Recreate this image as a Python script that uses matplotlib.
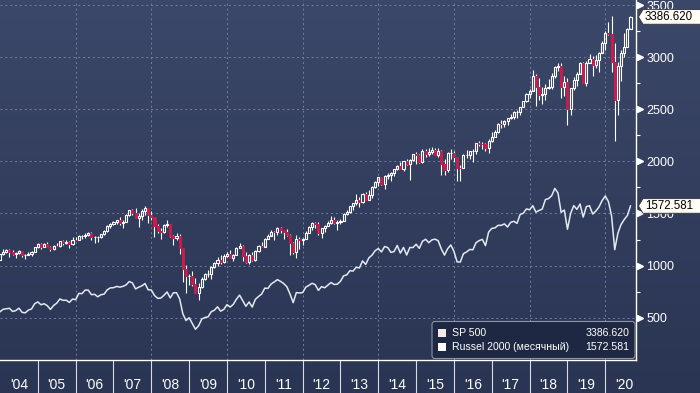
import numpy as np
import matplotlib
matplotlib.use("Agg")
import matplotlib.pyplot as plt
from matplotlib.patches import Polygon, FancyBboxPatch, Rectangle

plt.rcParams["font.family"] = ["Liberation Sans", "DejaVu Sans"]

# monthly bars, Dec 2003 .. Aug 2020
first_year, first_month = 2003, 12

spx_close = [
    1111.9,
    1131.1, 1144.9, 1126.2, 1107.3, 1120.7, 1140.8, 1101.7, 1104.2, 1114.6, 1130.2, 1173.8, 1211.9,
    1181.3, 1203.6, 1180.6, 1156.9, 1191.5, 1191.3, 1234.2, 1220.3, 1228.8, 1207.0, 1249.5, 1248.3,
    1280.1, 1280.7, 1294.8, 1310.6, 1270.1, 1270.2, 1276.7, 1303.8, 1335.9, 1377.9, 1400.6, 1418.3,
    1438.2, 1406.8, 1420.9, 1482.4, 1530.6, 1503.4, 1455.3, 1474.0, 1526.8, 1549.4, 1481.1, 1468.4,
    1378.6, 1330.6, 1322.7, 1385.6, 1400.4, 1280.0, 1267.4, 1282.8, 1166.4, 968.8, 896.2, 903.3,
    825.9, 735.1, 797.9, 872.8, 919.1, 919.3, 987.5, 1020.6, 1057.1, 1036.2, 1095.6, 1115.1,
    1073.9, 1104.5, 1169.4, 1186.7, 1089.4, 1030.7, 1101.6, 1049.3, 1141.2, 1183.3, 1180.6, 1257.6,
    1286.1, 1327.2, 1325.8, 1363.6, 1345.2, 1320.6, 1292.3, 1218.9, 1131.4, 1253.3, 1247.0, 1257.6,
    1312.4, 1365.7, 1408.5, 1397.9, 1310.3, 1362.2, 1379.3, 1406.6, 1440.7, 1412.2, 1416.2, 1426.2,
    1498.1, 1514.7, 1569.2, 1597.6, 1630.7, 1606.3, 1685.7, 1633.0, 1681.6, 1756.5, 1805.8, 1848.4,
    1782.6, 1859.5, 1872.3, 1884.0, 1923.6, 1960.2, 1930.7, 2003.4, 1972.3, 2018.1, 2067.6, 2058.9,
    1995.0, 2104.5, 2067.9, 2085.5, 2107.4, 2063.1, 2103.8, 1972.2, 1920.0, 2079.4, 2080.4, 2043.9,
    1940.2, 1932.2, 2059.7, 2065.3, 2097.0, 2098.9, 2173.6, 2171.0, 2168.3, 2126.2, 2198.8, 2238.8,
    2278.9, 2363.6, 2362.7, 2384.2, 2411.8, 2423.4, 2470.3, 2471.7, 2519.4, 2575.3, 2647.6, 2673.6,
    2823.8, 2713.8, 2640.9, 2648.1, 2705.3, 2718.4, 2816.3, 2901.5, 2914.0, 2711.7, 2760.2, 2506.9,
    2704.1, 2784.5, 2834.4, 2945.8, 2752.1, 2941.8, 2980.4, 2926.5, 2976.7, 3037.6, 3141.0, 3230.8,
    3225.5, 2954.2, 2584.6, 2912.4, 3044.3, 3100.3, 3271.1, 3386.62,
]
spx_high = [
    1112.6,
    1155, 1158, 1163, 1150, 1128, 1147, 1141, 1109, 1131, 1142, 1183, 1218,
    1217, 1213, 1229, 1192, 1200, 1219, 1237, 1245, 1243, 1234, 1270, 1276,
    1295, 1297, 1310, 1318, 1326, 1284, 1281, 1306, 1340, 1390, 1408, 1431,
    1441, 1462, 1438, 1498, 1535, 1541, 1556, 1504, 1539, 1576, 1553, 1523,
    1471, 1396, 1359, 1397, 1440, 1404, 1293, 1313, 1304, 1167, 1007, 919,
    944, 877, 832, 888, 930, 956, 996, 1039, 1080, 1101, 1113, 1130,
    1150, 1113, 1180, 1220, 1200, 1131, 1110, 1130, 1149, 1196, 1227, 1263,
    1303, 1345, 1333, 1370, 1371, 1346, 1356, 1308, 1230, 1293, 1278, 1269,
    1334, 1378, 1420, 1422, 1415, 1364, 1392, 1426, 1475, 1471, 1434, 1448,
    1504, 1531, 1570, 1598, 1687, 1654, 1698, 1710, 1730, 1765, 1813, 1850,
    1851, 1867, 1884, 1897, 1925, 1968, 1992, 2006, 2019, 2019, 2075, 2094,
    2072, 2120, 2117, 2126, 2135, 2130, 2133, 2113, 2021, 2094, 2117, 2104,
    2039, 1963, 2073, 2111, 2100, 2121, 2178, 2194, 2188, 2175, 2214, 2278,
    2301, 2371, 2401, 2398, 2418, 2454, 2484, 2491, 2520, 2582, 2657, 2695,
    2873, 2836, 2801, 2718, 2742, 2791, 2848, 2916, 2941, 2940, 2816, 2800,
    2709, 2813, 2860, 2950, 2954, 2965, 3028, 3014, 3022, 3050, 3155, 3248,
    3338, 3394, 3136, 2954, 3068, 3233, 3280, 3392,
]
spx_low = [
    1053,
    1106, 1124, 1087, 1105, 1076, 1114, 1078, 1060, 1099, 1090, 1127, 1173,
    1163, 1180, 1176, 1137, 1147, 1188, 1183, 1201, 1206, 1169, 1201, 1246,
    1245, 1253, 1268, 1280, 1245, 1219, 1224, 1263, 1290, 1327, 1360, 1385,
    1403, 1389, 1364, 1416, 1476, 1485, 1454, 1371, 1439, 1489, 1406, 1435,
    1270, 1316, 1257, 1313, 1373, 1272, 1200, 1248, 1107, 840, 741, 815,
    805, 735, 667, 783, 866, 888, 869, 978, 992, 1020, 1029, 1086,
    1071, 1045, 1105, 1171, 1040, 1029, 1011, 1040, 1047, 1131, 1174, 1186,
    1257, 1290, 1249, 1295, 1311, 1258, 1282, 1101, 1114, 1074, 1158, 1202,
    1259, 1312, 1341, 1358, 1292, 1267, 1325, 1378, 1397, 1403, 1343, 1398,
    1426, 1486, 1501, 1537, 1581, 1560, 1605, 1627, 1633, 1646, 1747, 1768,
    1770, 1738, 1834, 1814, 1859, 1915, 1930, 1905, 1964, 1821, 2002, 1973,
    1988, 1981, 2039, 2049, 2068, 2057, 2045, 1867, 1872, 1894, 2019, 1993,
    1812, 1811, 1937, 2034, 2025, 1992, 2075, 2147, 2119, 2097, 2084, 2187,
    2233, 2271, 2322, 2329, 2353, 2405, 2407, 2417, 2447, 2520, 2566, 2605,
    2683, 2533, 2585, 2553, 2594, 2691, 2699, 2796, 2864, 2604, 2631, 2347,
    2444, 2682, 2723, 2849, 2751, 2728, 2952, 2822, 2892, 2856, 3051, 3070,
    3214, 2855, 2192, 2447, 2767, 2999, 3101, 3284,
]
rut_close = [
    556.9,
    580.8, 585.6, 590.3, 559.8, 568.3, 591.5, 551.3, 546.5, 572.9, 583.8, 633.8, 651.6,
    624.0, 634.1, 615.1, 579.4, 616.7, 639.7, 679.8, 666.5, 667.8, 646.6, 678.8, 673.2,
    733.2, 730.6, 765.1, 764.5, 721.0, 724.7, 700.6, 720.5, 725.6, 766.8, 786.1, 787.7,
    800.3, 793.3, 800.7, 814.6, 847.2, 833.7, 776.1, 792.9, 805.5, 828.0, 767.8, 766.0,
    713.3, 686.2, 688.0, 714.8, 747.1, 689.7, 739.5, 739.5, 679.6, 537.5, 473.1, 499.5,
    443.5, 389.0, 422.8, 487.6, 501.6, 508.3, 557.0, 572.1, 604.3, 562.8, 579.7, 625.4,
    602.0, 627.6, 678.6, 716.6, 662.1, 609.5, 650.9, 602.1, 676.1, 703.4, 727.0, 783.7,
    781.3, 823.5, 843.5, 865.3, 848.3, 827.4, 797.0, 726.8, 644.2, 741.1, 737.4, 740.9,
    792.8, 810.9, 830.3, 816.9, 761.8, 798.5, 786.9, 812.1, 837.5, 818.7, 821.9, 849.4,
    902.1, 911.1, 951.5, 947.5, 984.1, 977.5, 1045.3, 1010.9, 1073.8, 1100.2, 1142.9, 1163.6,
    1130.9, 1183.0, 1173.0, 1126.9, 1134.5, 1193.0, 1120.1, 1174.4, 1101.7, 1173.5, 1173.2, 1204.7,
    1165.4, 1233.4, 1252.8, 1220.1, 1246.5, 1253.9, 1238.7, 1159.5, 1100.7, 1161.9, 1198.1, 1135.9,
    1035.4, 1033.9, 1114.0, 1130.8, 1154.8, 1151.9, 1219.9, 1239.9, 1251.6, 1191.4, 1322.3, 1357.1,
    1361.8, 1386.7, 1385.9, 1400.4, 1370.2, 1415.4, 1425.1, 1405.3, 1490.9, 1502.8, 1544.1, 1535.5,
    1575.0, 1512.5, 1529.4, 1541.9, 1633.6, 1643.1, 1670.8, 1740.8, 1696.6, 1511.4, 1533.3, 1348.6,
    1499.4, 1575.6, 1539.7, 1591.2, 1465.5, 1566.6, 1574.6, 1494.8, 1523.4, 1562.5, 1624.5, 1668.5,
    1614.1, 1476.4, 1153.1, 1310.7, 1394.0, 1441.4, 1480.4, 1572.581,
]
spx_first_open = 1058.2

years = list(range(2004, 2021))
year_labels = ["'%02d" % (y % 100) for y in years]
yticks = [500, 1000, 1500, 2000, 2500, 3000, 3500]

close = np.array(spx_close)
high = np.array(spx_high)
low = np.array(spx_low)
opn = np.r_[spx_first_open, close[:-1]]
# bars are stamped at the end of their month
t = first_year + (first_month + np.arange(len(close))) / 12.0

W, H = 700, 393
fig = plt.figure(figsize=(W / 100, H / 100), dpi=100)

bg = fig.add_axes([0, 0, 1, 1], zorder=-5)
top = np.array([0x3c, 0x48, 0x69]) / 255
bot = np.array([0x2a, 0x34, 0x53]) / 255
g = np.linspace(0, 1, 256)[:, None, None]
bg.imshow(top * (1 - g) + bot * g, extent=[0, 1, 0, 1], aspect="auto")
bg.axis("off")

ax = fig.add_axes([0, 33 / H, 636 / W, 360 / H])
ax.set_facecolor("none")
ax.set_xlim(2004.0, 2004 + 636 / 37.83)
ax.set_ylim(94, 3549)

grid_kw = dict(color="#71809f", lw=0.7, ls=(0, (2, 3)), zorder=0)
for v in yticks:
    ax.axhline(v, **grid_kw)
for y in range(2006, 2021, 2):
    ax.axvline(y, **grid_kw)

# russell 2000 monthly line
ax.plot(t, rut_close, color="#e4e8f0", lw=1.1, zorder=2)

# candles
up = close >= opn
body_lo = np.minimum(opn, close)
body_hi = np.maximum(opn, close)
ax.vlines(t, low, body_lo, color="white", lw=0.8, zorder=3)
ax.vlines(t, body_hi, high, color="white", lw=0.8, zorder=3)
bw = 0.055
ax.bar(t[up], (body_hi - body_lo)[up], bottom=body_lo[up], width=bw,
       facecolor="none", edgecolor="white", lw=0.8, zorder=4)
ax.bar(t[~up], (body_hi - body_lo)[~up], bottom=body_lo[~up], width=bw,
       facecolor="#d01a4c", edgecolor="#d01a4c", lw=0.6, zorder=4)

for s in ["left", "top"]:
    ax.spines[s].set_visible(False)
for s in ["bottom", "right"]:
    ax.spines[s].set_color("white")
    ax.spines[s].set_linewidth(1.0)

ax.set_xticks([y + 0.5 for y in years])
ax.set_xticklabels(year_labels)
ax.set_xticks(years[1:], minor=True)
ax.tick_params(axis="x", which="major", length=0, pad=13, labelsize=10, labelcolor="white")
ax.tick_params(axis="x", which="minor", length=23.8, width=0.8, color="#d8dce4")

ax.yaxis.tick_right()
ax.set_yticks(yticks)
ax.set_yticks([750, 1250, 1750, 2250, 2750, 3250], minor=True)
ax.tick_params(axis="y", which="major", length=0, pad=7.5, labelsize=9, labelcolor="white")
ax.tick_params(axis="y", which="minor", length=3, width=0.8, color="white")
ax.plot(np.full(len(yticks), 1 + 4 / 636), yticks, ls="none", marker=">", ms=5,
        color="white", transform=ax.get_yaxis_transform(), clip_on=False, zorder=5)

# overlay in pixel coordinates for the value tags and legend
ov = fig.add_axes([0, 0, 1, 1], zorder=10)
ov.set_xlim(0, W)
ov.set_ylim(0, H)
ov.axis("off")
ov.patch.set_visible(False)

fig.canvas.draw()
for val, txt in [(spx_close[-1], "3386.620"), (rut_close[-1], "1572.581")]:
    yp = ax.transData.transform((2020.5, val))[1]
    h = 7.3
    ov.add_patch(Polygon([[638.5, yp], [643, yp + h], [702, yp + h], [702, yp - h], [643, yp - h]],
                         closed=True, facecolor="#fffdf6", edgecolor="#333333", lw=0.6))
    ov.text(645, yp, txt, fontsize=8.3, color="black", va="center", ha="left")

ov.add_patch(FancyBboxPatch((432, 34.5), 203, 37, boxstyle="round,pad=0,rounding_size=3",
                            facecolor="#1e2842", edgecolor="#8a93a8", lw=0.8))
legend_rows = [("SP 500", "3386.620", "#f6e8e8", 59.7),
               ("Russel 2000 (месячный)", "1572.581", "white", 46.3)]
for name, val, col, yp in legend_rows:
    ov.add_patch(Rectangle((438, yp - 4), 8, 8, facecolor=col, edgecolor="none"))
    ov.text(452.5, yp, name, fontsize=7.6, color="white", va="center", ha="left")
    ov.text(629.5, yp, val, fontsize=7.6, color="white", va="center", ha="right")

fig.savefig("out.png", dpi=100)
